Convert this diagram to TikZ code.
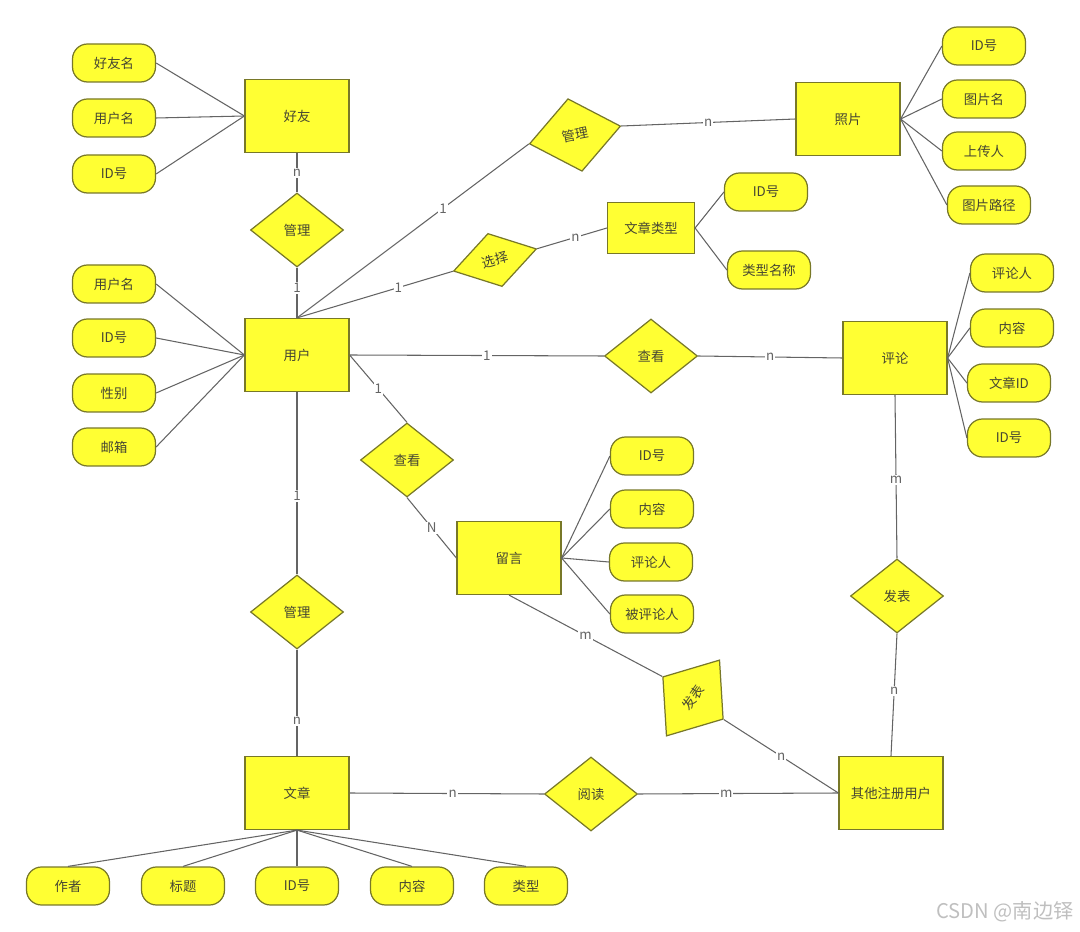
\documentclass[tikz,border=0pt]{standalone}
\usepackage{fontspec}
\setmainfont{Noto Sans CJK SC}
\usepackage{tikz}
\usetikzlibrary{shapes.geometric}
\definecolor{erfill}{RGB}{255,255,51}
\definecolor{erborder}{RGB}{120,120,40}
\definecolor{erline}{RGB}{100,100,100}
\definecolor{ertext}{RGB}{70,70,50}
\newcommand{\erfont}{\fontsize{7.6}{9}\selectfont}

\begin{document}
\begin{tikzpicture}[
    x=0.02cm, y=-0.02cm,
    entity/.style={draw=erborder, line width=0.7pt, fill=erfill, minimum width=2.08cm, minimum height=1.46cm, inner sep=1pt, font=\erfont, text=ertext},
    attribute/.style={draw=erborder, line width=0.7pt, fill=erfill, rounded corners=0.3cm, minimum width=1.66cm, minimum height=0.76cm, inner sep=1pt, font=\erfont, text=ertext},
    relation/.style={draw=erborder, line width=0.7pt, fill=erfill, diamond, minimum width=1.86cm, minimum height=1.48cm, inner sep=0pt, font=\erfont, text=ertext},
    link/.style={draw=erline, line width=0.6pt},
    card/.style={fill=white, inner sep=0.6pt, font=\erfont, text=erline}
]
    \useasboundingbox (0,0) rectangle (1080,932);

    % Entities
    \node[entity] (friend) at (297,116) {好友};
    \node[entity] (user) at (297,355) {用户};
    \node[entity] (photo) at (848,119) {照片};
    \node[entity, minimum width=1.74cm, minimum height=1.02cm] (atype) at (651,228) {文章类型};
    \node[entity] (comment) at (895,358) {评论};
    \node[entity] (msg) at (509,558) {留言};
    \node[entity] (article) at (297,793) {文章};
    \node[entity] (other) at (891,793) {其他注册用户};

    % Relations
    \node[relation] (mgfriend) at (297,230) {管理};
    \node[relation, rotate=11] (mgphoto) at (575,135) {管理};
    \node[relation, rotate=15, minimum width=1.72cm, minimum height=1.1cm] (choose) at (495,260) {选择};
    \node[relation] (viewcmt) at (651,356) {查看};
    \node[relation] (viewmsg) at (407,460) {查看};
    \node[relation] (mgart) at (297,612) {管理};
    \node[relation] (postcmt) at (897,596) {发表};
    \node[relation, rotate=55] (postmsg) at (693,698) {发表};
    \node[relation] (read) at (591,794) {阅读};

    % Attributes of friend
    \node[attribute] (fname) at (114,63) {好友名};
    \node[attribute] (fuser) at (114,118) {用户名};
    \node[attribute] (fid) at (114,174) {ID号};

    % Attributes of user
    \node[attribute] (uname) at (114,284) {用户名};
    \node[attribute] (uid) at (114,338) {ID号};
    \node[attribute] (usex) at (114,393) {性别};
    \node[attribute] (umail) at (114,447) {邮箱};

    % Attributes of photo
    \node[attribute] (pid) at (984,46) {ID号};
    \node[attribute] (pname) at (984,99) {图片名};
    \node[attribute] (pup) at (984,151) {上传人};
    \node[attribute] (ppath) at (989,205) {图片路径};

    % Attributes of article type
    \node[attribute] (tid) at (766,192) {ID号};
    \node[attribute] (tname) at (769,270) {类型名称};

    % Attributes of comment
    \node[attribute] (cwho) at (1012,273) {评论人};
    \node[attribute] (ctext) at (1012,328) {内容};
    \node[attribute] (cart) at (1009,383) {文章ID};
    \node[attribute] (cid) at (1009,438) {ID号};

    % Attributes of message
    \node[attribute] (mid) at (652,456) {ID号};
    \node[attribute] (mtext) at (652,509) {内容};
    \node[attribute] (mwho) at (651,562) {评论人};
    \node[attribute] (mto) at (652,614) {被评论人};

    % Attributes of article
    \node[attribute] (aauthor) at (68,886) {作者};
    \node[attribute] (atitle) at (183,886) {标题};
    \node[attribute] (aid) at (297,886) {ID号};
    \node[attribute] (atext) at (412,886) {内容};
    \node[attribute] (akind) at (526,886) {类型};

    % Attribute links
    \draw[link] (fname.east) -- (friend.west);
    \draw[link] (fuser.east) -- (friend.west);
    \draw[link] (fid.east) -- (friend.west);

    \draw[link] (uname.east) -- (user.west);
    \draw[link] (uid.east) -- (user.west);
    \draw[link] (usex.east) -- (user.west);
    \draw[link] (umail.east) -- (user.west);

    \draw[link] (photo.east) -- (pid.west);
    \draw[link] (photo.east) -- (pname.west);
    \draw[link] (photo.east) -- (pup.west);
    \draw[link] (photo.east) -- (ppath.west);

    \draw[link] (atype.east) -- (tid.west);
    \draw[link] (atype.east) -- (tname.west);

    \draw[link] (comment.east) -- (cwho.west);
    \draw[link] (comment.east) -- (ctext.west);
    \draw[link] (comment.east) -- (cart.west);
    \draw[link] (comment.east) -- (cid.west);

    \draw[link] (msg.east) -- (mid.west);
    \draw[link] (msg.east) -- (mtext.west);
    \draw[link] (msg.east) -- (mwho.west);
    \draw[link] (msg.east) -- (mto.west);

    \draw[link] (article.south) -- (aauthor.north);
    \draw[link] (article.south) -- (atitle.north);
    \draw[link] (article.south) -- (aid.north);
    \draw[link] (article.south) -- (atext.north);
    \draw[link] (article.south) -- (akind.north);

    % Relation links
    \draw[link] (friend.south) -- node[card, pos=0.5] {n} (mgfriend.north);
    \draw[link] (mgfriend.south) -- node[card, pos=0.41] {1} (user.north);
    \draw[link] (user.north) -- node[card, pos=0.63] {1} (mgphoto.west);
    \draw[link] (mgphoto.east) -- node[card, pos=0.5] {n} (photo.west);
    \draw[link] (user.north) -- node[card, pos=0.65] {1} (choose.west);
    \draw[link] (choose.east) -- node[card, pos=0.55] {n} (atype.west);
    \draw[link] (user.east) -- node[card, pos=0.54] {1} (viewcmt.west);
    \draw[link] (viewcmt.east) -- node[card, pos=0.5] {n} (comment.west);
    \draw[link] (user.east) -- node[card, pos=0.5] {1} (viewmsg.north);
    \draw[link] (viewmsg.south) -- node[card, pos=0.5] {N} (msg.west);
    \draw[link] (comment.south) -- node[card, pos=0.52] {m} (postcmt.north);
    \draw[link] (postcmt.south) -- node[card, pos=0.47] {n} (other.north);
    \draw[link] (msg.south) -- node[card, pos=0.5] {m} (postmsg.north);
    \draw[link] (postmsg.south) -- node[card, pos=0.5] {n} (other.west);
    \draw[link] (user.south) -- node[card, pos=0.57] {1} (mgart.north);
    \draw[link] (mgart.south) -- node[card, pos=0.67] {n} (article.north);
    \draw[link] (article.east) -- node[card, pos=0.53] {n} (read.west);
    \draw[link] (read.east) -- node[card, pos=0.44] {m} (other.west);

    % Watermark
    \node[font=\fontsize{11.5}{13}\selectfont, text=gray!50] (mark) at (1005,912) {CSDN @南边铎};
\end{tikzpicture}
\end{document}
